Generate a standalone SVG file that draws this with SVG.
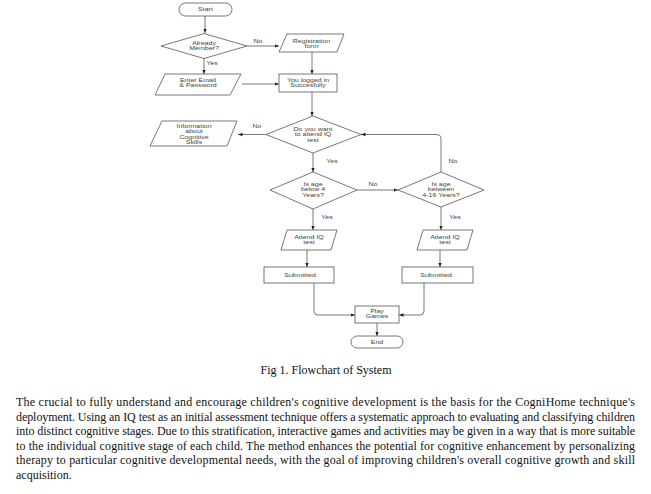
<svg xmlns="http://www.w3.org/2000/svg" width="651" height="494" viewBox="0 0 651 494">
<style>
.s{fill:#fff;stroke:#555;stroke-width:0.8}
.c{fill:none;stroke:#555;stroke-width:0.8}
.t{font-family:"Liberation Sans",Arial,sans-serif;font-size:5.4px;fill:#444;text-anchor:middle}
.l{font-family:"Liberation Sans",Arial,sans-serif;font-size:5.4px;fill:#444;text-anchor:middle}
.p{font-family:"Liberation Serif","Times New Roman",serif;font-size:12px;fill:#111}
</style>
<defs>
<marker id="a" viewBox="0 0 10 10" refX="10" refY="5" markerWidth="4.5" markerHeight="4.5" orient="auto" markerUnits="userSpaceOnUse">
<path d="M0,1 L10,5 L0,9 z" fill="#222"/>
</marker>
</defs>
<rect width="651" height="494" fill="#fff"/>
<g id="connectors">
<path class="c" d="M205,16 V33" marker-end="url(#a)"/>
<path class="c" d="M247,46 H279" marker-end="url(#a)"/>
<path class="c" d="M204,58.5 V74" marker-end="url(#a)"/>
<path class="c" d="M312,52 V74" marker-end="url(#a)"/>
<path class="c" d="M242,84 H279" marker-end="url(#a)"/>
<path class="c" d="M312,92 V116" marker-end="url(#a)"/>
<path class="c" d="M266,134.5 H238" marker-end="url(#a)"/>
<path class="c" d="M313,153 V172" marker-end="url(#a)"/>
<path class="c" d="M357,190 H398" marker-end="url(#a)"/>
<path class="c" d="M441,172 V138.5 Q441,134.5 437,134.5 H361" marker-end="url(#a)"/>
<path class="c" d="M313,209 V230" marker-end="url(#a)"/>
<path class="c" d="M441,207 V230" marker-end="url(#a)"/>
<path class="c" d="M307,250 V267" marker-end="url(#a)"/>
<path class="c" d="M440,250 V267" marker-end="url(#a)"/>
<path class="c" d="M314,283 V311 Q314,315 318,315 H355" marker-end="url(#a)"/>
<path class="c" d="M424,283 V311 Q424,315 420,315 H399" marker-end="url(#a)"/>
<path class="c" d="M377,323 V336" marker-end="url(#a)"/>
<text class="l" transform="translate(258,43) scale(1.3,1)">No</text>
<text class="l" transform="translate(212,65) scale(1.3,1)">Yes</text>
<text class="l" transform="translate(257,128) scale(1.3,1)">No</text>
<text class="l" transform="translate(332,163) scale(1.3,1)">Yes</text>
<text class="l" transform="translate(373,186) scale(1.3,1)">No</text>
<text class="l" transform="translate(453,163) scale(1.3,1)">No</text>
<text class="l" transform="translate(327,219) scale(1.3,1)">Yes</text>
<text class="l" transform="translate(455,219) scale(1.3,1)">Yes</text>
</g>
<g id="start">
<rect class="s" x="179" y="3" width="53" height="13" rx="6.5"/>
<text class="t" transform="translate(205.5,11.4) scale(1.3,1)">Start</text>
</g>
<g id="already-member">
<polygon class="s" points="161,46 204,33.5 247,46 204,58.5"/>
<text class="t" transform="translate(204,45) scale(1.3,1)">Already</text>
<text class="t" transform="translate(204,50.3) scale(1.3,1)">Member?</text>
</g>
<g id="registration-form">
<polygon class="s" points="287,34 344,34 337,52 279,52"/>
<text class="t" transform="translate(311.5,43) scale(1.3,1)">Registration</text>
<text class="t" transform="translate(311.5,48.3) scale(1.3,1)">form</text>
</g>
<g id="enter-email">
<polygon class="s" points="165,74 241,74 230,95 155,95"/>
<text class="t" transform="translate(198,81.5) scale(1.3,1)">Enter Email</text>
<text class="t" transform="translate(198,86.8) scale(1.3,1)">&amp; Password</text>
</g>
<g id="logged-in">
<rect class="s" x="279" y="74" width="58" height="18"/>
<text class="t" transform="translate(308,82) scale(1.3,1)">You logged in</text>
<text class="t" transform="translate(308,87.3) scale(1.3,1)">Succesfully</text>
</g>
<g id="attend-question">
<polygon class="s" points="266,134.5 313,116 361,134.5 313,153"/>
<text class="t" transform="translate(313,131) scale(1.3,1)">Do you want</text>
<text class="t" transform="translate(313,136.3) scale(1.3,1)">to attend IQ</text>
<text class="t" transform="translate(313,141.6) scale(1.3,1)">test</text>
</g>
<g id="information">
<polygon class="s" points="162,121 237,121 227,146 150,146"/>
<text class="t" transform="translate(194,128) scale(1.3,1)">Information</text>
<text class="t" transform="translate(194,133.3) scale(1.3,1)">about</text>
<text class="t" transform="translate(194,138.6) scale(1.3,1)">Cognitive</text>
<text class="t" transform="translate(194,143.9) scale(1.3,1)">Skills</text>
</g>
<g id="age-below-4">
<polygon class="s" points="270,190 313,172 357,190 313,209"/>
<text class="t" transform="translate(313,186) scale(1.3,1)">Is age</text>
<text class="t" transform="translate(313,191.3) scale(1.3,1)">below 4</text>
<text class="t" transform="translate(313,196.6) scale(1.3,1)">Years?</text>
</g>
<g id="age-between">
<polygon class="s" points="398,190 441,172 484,190 441,207"/>
<text class="t" transform="translate(441,186) scale(1.3,1)">Is age</text>
<text class="t" transform="translate(441,191.3) scale(1.3,1)">between</text>
<text class="t" transform="translate(441,196.6) scale(1.3,1)">4-16 Years?</text>
</g>
<g id="attend-iq-left">
<polygon class="s" points="287,230 337,230 331,250 281,250"/>
<text class="t" transform="translate(309,238.5) scale(1.3,1)">Attend IQ</text>
<text class="t" transform="translate(309,243.8) scale(1.3,1)">test</text>
</g>
<g id="attend-iq-right">
<polygon class="s" points="423,230 473,230 467,250 417,250"/>
<text class="t" transform="translate(445,238.5) scale(1.3,1)">Attend IQ</text>
<text class="t" transform="translate(445,243.8) scale(1.3,1)">test</text>
</g>
<g id="submitted-left">
<rect class="s" x="264" y="267" width="70" height="16"/>
<text class="t" transform="translate(300,276.5) scale(1.3,1)">Submitted</text>
</g>
<g id="submitted-right">
<rect class="s" x="402" y="267" width="71" height="16"/>
<text class="t" transform="translate(436,276.5) scale(1.3,1)">Submitted</text>
</g>
<g id="play-games">
<rect class="s" x="355" y="306" width="44" height="17"/>
<text class="t" transform="translate(377,313) scale(1.3,1)">Play</text>
<text class="t" transform="translate(377,318.3) scale(1.3,1)">Games</text>
</g>
<g id="end">
<rect class="s" x="351" y="336" width="52" height="12" rx="6"/>
<text class="t" transform="translate(377,344) scale(1.3,1)">End</text>
</g>
<text class="p" x="326" y="374" text-anchor="middle">Fig 1. Flowchart of System</text>
<g id="paragraph">
<text class="p" x="16" y="406" textLength="619" lengthAdjust="spacing">The crucial to fully understand and encourage children's cognitive development is the basis for the CogniHome technique's</text>
<text class="p" x="16" y="420.6" textLength="619" lengthAdjust="spacing">deployment. Using an IQ test as an initial assessment technique offers a systematic approach to evaluating and classifying children</text>
<text class="p" x="16" y="435.2" textLength="619" lengthAdjust="spacing">into distinct cognitive stages. Due to this stratification, interactive games and activities may be given in a way that is more suitable</text>
<text class="p" x="16" y="449.8" textLength="619" lengthAdjust="spacing">to the individual cognitive stage of each child. The method enhances the potential for cognitive enhancement by personalizing</text>
<text class="p" x="16" y="464.4" textLength="619" lengthAdjust="spacing">therapy to particular cognitive developmental needs, with the goal of improving children's overall cognitive growth and skill</text>
<text class="p" x="16" y="479">acquisition.</text>
</g>
</svg>
